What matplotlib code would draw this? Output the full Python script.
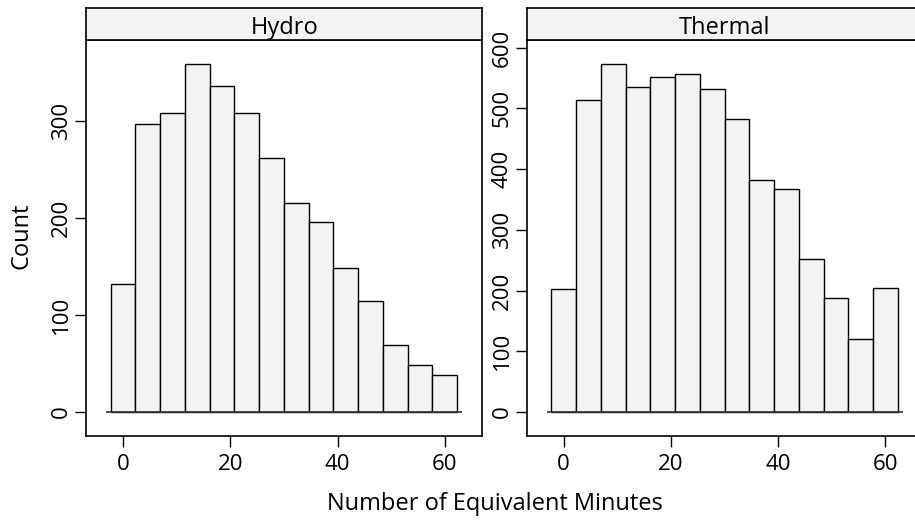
import numpy as np
import matplotlib
matplotlib.use("Agg")
import matplotlib.pyplot as plt

# histogram counts (14 bins each)
panels = ["Hydro", "Thermal"]
hydro_counts = [132, 297, 308, 358, 336, 308, 262, 215, 196, 148, 114, 69, 48, 38]
thermal_counts = [203, 514, 573, 535, 551, 557, 532, 483, 382, 368, 252, 188, 120, 204]
bin_lo, bin_hi = -2.3, 62.3
x_ticks = [0, 20, 40, 60]
hydro_yticks = [0, 100, 200, 300]
thermal_yticks = [0, 100, 200, 300, 400, 500, 600]

plt.rcParams['font.family'] = ['Open Sans', 'DejaVu Sans']
plt.rcParams['font.size'] = 16
fill = '#f2f3f5'

fig = plt.figure(figsize=(9.15, 5.22), dpi=100)

edges = np.linspace(bin_lo, bin_hi, len(hydro_counts) + 1)
settings = [
    (hydro_counts, hydro_yticks, (-24.7, 383), 0.094),
    (thermal_counts, thermal_yticks, (-39.5, 612.7), 0.5756),
]

for name, (counts, yt, ylim, x0) in zip(panels, settings):
    ax = fig.add_axes([x0, 0.1648, 0.4331, 0.7586])
    ax.bar(edges[:-1], counts, width=np.diff(edges), align='edge',
           color=fill, edgecolor='black', linewidth=1.0)
    ax.hlines(0, -3.2, 63.2, color='#333333', linewidth=1.2)
    ax.set_xlim(-6.9, 67.0)
    ax.set_ylim(*ylim)
    ax.set_xticks(x_ticks)
    ax.set_yticks(yt)
    ax.tick_params(direction='out', length=8, width=1)
    ax.tick_params(axis='x', top=False, pad=5)
    ax.tick_params(axis='y', right=False, pad=2)
    for lab in ax.get_yticklabels():
        lab.set_rotation(90)
        lab.set_va('center')
    for s in ax.spines.values():
        s.set_linewidth(1.2)

    # strip on top of each panel
    st = fig.add_axes([x0, 0.9234, 0.4331, 0.0607])
    st.set_facecolor(fill)
    st.set_xticks([])
    st.set_yticks([])
    for s in st.spines.values():
        s.set_linewidth(1.2)
    st.text(0.5, 0.38, name, ha='center', va='center', fontsize=17,
            transform=st.transAxes)

fig.text(0.541, 0.034, 'Number of Equivalent Minutes', ha='center',
         va='center', fontsize=17)
fig.text(0.023, 0.548, 'Count', rotation=90, ha='center', va='center',
         fontsize=17)

fig.savefig('out.png', dpi=100)
